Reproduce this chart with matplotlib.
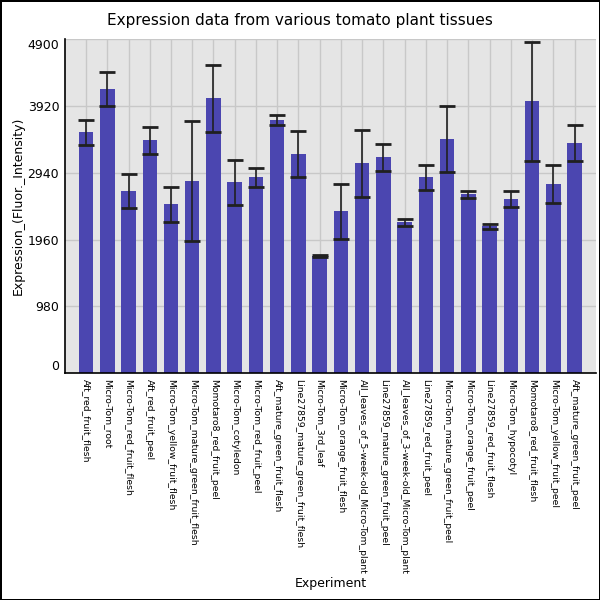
import matplotlib

matplotlib.use("Agg")
import matplotlib.pyplot as plt  # noqa: E402
import numpy as np  # noqa: E402

experiments = [
    "Aft_red_fruit_flesh",
    "Micro-Tom_root",
    "Micro-Tom_red_fruit_flesh",
    "Aft_red_fruit_peel",
    "Micro-Tom_yellow_fruit_flesh",
    "Micro-Tom_mature_green_fruit_flesh",
    "Momotaro8_red_fruit_peel",
    "Micro-Tom_cotyledon",
    "Micro-Tom_red_fruit_peel",
    "Aft_mature_green_fruit_flesh",
    "Line27859_mature_green_fruit_flesh",
    "Micro-Tom_3rd_leaf",
    "Micro-Tom_orange_fruit_flesh",
    "All_leaves_of_5-week-old_Micro-Tom_plant",
    "Line27859_mature_green_fruit_peel",
    "All_leaves_of_3-week-old_Micro-Tom_plant",
    "Line27859_red_fruit_peel",
    "Micro-Tom_mature_green_fruit_peel",
    "Micro-Tom_orange_fruit_peel",
    "Line27859_red_fruit_flesh",
    "Micro-Tom_hypocotyl",
    "Momotaro8_red_fruit_flesh",
    "Micro-Tom_yellow_fruit_peel",
    "Aft_mature_green_fruit_peel",
]
expression = [
    3533, 4164, 2667, 3416, 2477, 2814, 4032, 2800, 2873, 3709, 3210, 1714,
    2374, 3078, 3166, 2213, 2873, 3430, 2623, 2154, 2550, 3988, 2770, 3372,
]
error = [
    185, 250, 250, 200, 260, 880, 490, 330, 140, 70, 340, 15,
    400, 495, 200, 52, 180, 485, 50, 37, 115, 870, 280, 260,
]
yticks = [0, 980, 1960, 2940, 3920, 4900]

fig = plt.figure(figsize=(6, 6), dpi=100)
fig.patch.set_edgecolor("black")
fig.patch.set_linewidth(2)
ax = fig.add_axes([0.108, 0.378, 0.885, 0.557])
ax.set_facecolor("#e5e5e5")

x = np.arange(len(experiments))
ax.bar(x, expression, width=0.68, color="#4b46b0", zorder=2)
ax.errorbar(x, expression, yerr=error, fmt="none", ecolor="#202020",
            elinewidth=1.2, capsize=6, capthick=2, zorder=3)

ax.set_xlim(-1, len(experiments))
ax.set_ylim(0, 4900)
ax.set_xticks(x)
ax.set_xticklabels(experiments, rotation=270, fontsize=6.7, va="top", ha="center")
ax.set_yticks(yticks)
ax.set_yticklabels([str(v) for v in yticks], fontsize=9)
ylabels = ax.get_yticklabels()
ylabels[0].set_va("bottom")
ylabels[-1].set_va("top")
ax.tick_params(length=0, pad=4)
ax.grid(True, color="#c8c8c8", lw=1, zorder=0)
ax.set_axisbelow(True)
for side in ("top", "right"):
    ax.spines[side].set_visible(False)
ax.spines["left"].set_linewidth(1.2)
ax.spines["bottom"].set_linewidth(1.2)

fig.text(0.551, 1 - 584 / 600, "Experiment", fontsize=9, ha="center", va="center")
fig.text(18 / 600, 0.6565, "Expression_(Fluor._Intensity)", fontsize=9,
         rotation=90, ha="center", va="center")
fig.suptitle("Expression data from various tomato plant tissues", fontsize=11,
             x=0.5, y=1 - 20 / 600, va="center")

fig.savefig("out.png", dpi=100)
